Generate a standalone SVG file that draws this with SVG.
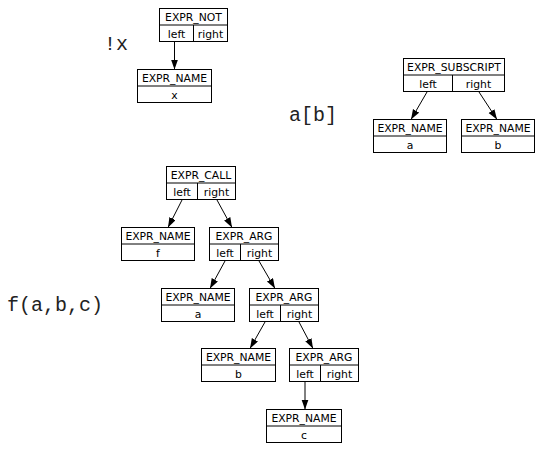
<svg xmlns="http://www.w3.org/2000/svg" width="546" height="453" viewBox="0 0 546 453">
<style>
rect{fill:#fff;stroke:#000;stroke-width:1}
.d{stroke:#000;stroke-width:1}
text{font-family:"DejaVu Sans",sans-serif;font-size:10.8px;fill:#000;text-anchor:middle}
text.code{font-family:"Liberation Mono",monospace;font-size:20px;text-anchor:start;fill:#222}
.e line{stroke:#000;stroke-width:1;marker-end:url(#ah)}
</style>
<defs>
<marker id="ah" markerUnits="userSpaceOnUse" markerWidth="10" markerHeight="8" refX="10" refY="3.5" orient="auto">
<path d="M0,0 L10,3.5 L0,7 z" fill="#000"/>
</marker>
</defs>
<rect width="546" height="453" style="stroke:none"/>
<text class="code" x="104" y="50">!x</text>
<text class="code" x="289" y="121">a[b]</text>
<text class="code" x="7" y="311">f(a,b,c)</text>

<g id="not">
<rect x="159.5" y="8.5" width="68" height="33"/>
<line class="d" x1="159.5" y1="25" x2="227.5" y2="25"/>
<line class="d" x1="193.5" y1="25" x2="193.5" y2="41.5"/>
<text x="193.5" y="21">EXPR_NOT</text>
<text x="176.5" y="37.5">left</text>
<text x="210.5" y="37.5">right</text>
</g>
<g id="name_x">
<rect x="137.5" y="69.5" width="74" height="33"/>
<line class="d" x1="137.5" y1="86" x2="211.5" y2="86"/>
<text x="174.5" y="82">EXPR_NAME</text>
<text x="174.5" y="98.5">x</text>
</g>

<g id="subscript">
<rect x="403.5" y="58.5" width="101" height="33"/>
<line class="d" x1="403.5" y1="75" x2="504.5" y2="75"/>
<line class="d" x1="452.5" y1="75" x2="452.5" y2="91.5"/>
<text x="454" y="71">EXPR_SUBSCRIPT</text>
<text x="428" y="87.5">left</text>
<text x="478.5" y="87.5">right</text>
</g>
<g id="name_a1">
<rect x="373.5" y="119.5" width="73" height="33"/>
<line class="d" x1="373.5" y1="136" x2="446.5" y2="136"/>
<text x="410" y="132">EXPR_NAME</text>
<text x="410" y="148.5">a</text>
</g>
<g id="name_b1">
<rect x="461.5" y="119.5" width="73" height="33"/>
<line class="d" x1="461.5" y1="136" x2="534.5" y2="136"/>
<text x="498" y="132">EXPR_NAME</text>
<text x="498" y="148.5">b</text>
</g>

<g id="call">
<rect x="166.5" y="166.5" width="69" height="33"/>
<line class="d" x1="166.5" y1="183" x2="235.5" y2="183"/>
<line class="d" x1="197.5" y1="183" x2="197.5" y2="199.5"/>
<text x="201" y="179">EXPR_CALL</text>
<text x="182" y="195.5">left</text>
<text x="216.5" y="195.5">right</text>
</g>
<g id="name_f">
<rect x="121.5" y="227.5" width="73" height="33"/>
<line class="d" x1="121.5" y1="244" x2="194.5" y2="244"/>
<text x="158" y="240">EXPR_NAME</text>
<text x="158" y="256.5">f</text>
</g>
<g id="arg1">
<rect x="209.5" y="227.5" width="69" height="33"/>
<line class="d" x1="209.5" y1="244" x2="278.5" y2="244"/>
<line class="d" x1="240.5" y1="244" x2="240.5" y2="260.5"/>
<text x="244" y="240">EXPR_ARG</text>
<text x="225" y="256.5">left</text>
<text x="259.5" y="256.5">right</text>
</g>
<g id="name_a2">
<rect x="161.5" y="288.5" width="73" height="33"/>
<line class="d" x1="161.5" y1="305" x2="234.5" y2="305"/>
<text x="198" y="301">EXPR_NAME</text>
<text x="198" y="317.5">a</text>
</g>
<g id="arg2">
<rect x="249.5" y="288.5" width="69" height="33"/>
<line class="d" x1="249.5" y1="305" x2="318.5" y2="305"/>
<line class="d" x1="280.5" y1="305" x2="280.5" y2="321.5"/>
<text x="284" y="301">EXPR_ARG</text>
<text x="265" y="317.5">left</text>
<text x="299.5" y="317.5">right</text>
</g>
<g id="name_b2">
<rect x="201.5" y="348.5" width="74" height="33"/>
<line class="d" x1="201.5" y1="365" x2="275.5" y2="365"/>
<text x="238.5" y="361">EXPR_NAME</text>
<text x="238.5" y="377.5">b</text>
</g>
<g id="arg3">
<rect x="289.5" y="348.5" width="69" height="33"/>
<line class="d" x1="289.5" y1="365" x2="358.5" y2="365"/>
<line class="d" x1="320.5" y1="365" x2="320.5" y2="381.5"/>
<text x="324" y="361">EXPR_ARG</text>
<text x="305" y="377.5">left</text>
<text x="339.5" y="377.5">right</text>
</g>
<g id="name_c">
<rect x="266.5" y="409.5" width="75" height="33"/>
<line class="d" x1="266.5" y1="426" x2="341.5" y2="426"/>
<text x="304" y="422">EXPR_NAME</text>
<text x="304" y="438.5">c</text>
</g>

<g id="edges" class="e">
<line x1="174.5" y1="42" x2="174.5" y2="69.5"/>
<line x1="427" y1="92" x2="411" y2="119.5"/>
<line x1="479" y1="92" x2="497" y2="119.5"/>
<line x1="182" y1="200" x2="168" y2="227.5"/>
<line x1="217" y1="200" x2="232" y2="227.5"/>
<line x1="225" y1="261" x2="210" y2="288.5"/>
<line x1="259" y1="261" x2="275" y2="288.5"/>
<line x1="265" y1="322" x2="250" y2="348.5"/>
<line x1="299" y1="322" x2="313" y2="348.5"/>
<line x1="305" y1="382" x2="305" y2="409.5"/>
</g>
</svg>
